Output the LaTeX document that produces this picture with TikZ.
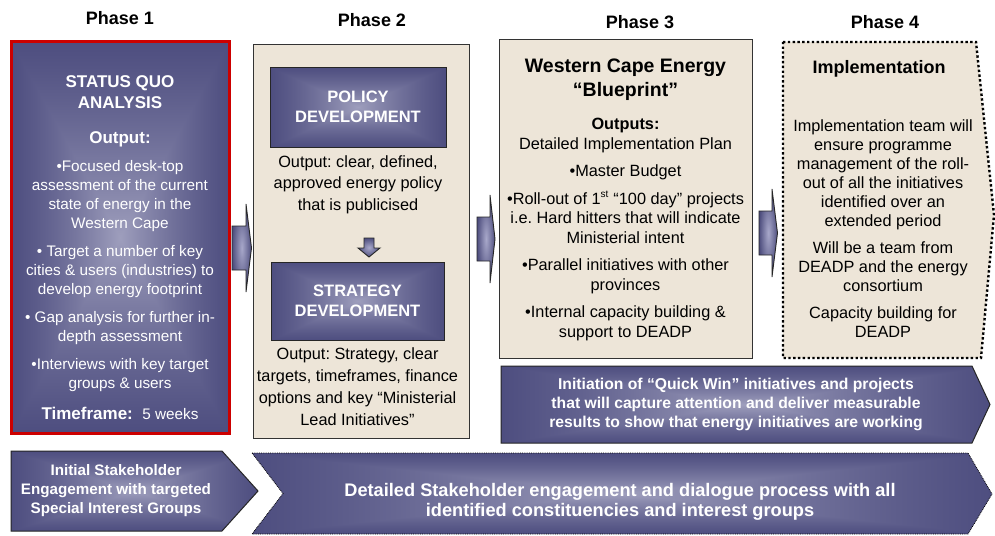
\documentclass[tikz,border=0pt]{standalone}
\usepackage{fontspec}
\setmainfont{Liberation Sans}
\usetikzlibrary{positioning}
\definecolor{arrowdk}{HTML}{4E4E7E}
\definecolor{arrowlt}{HTML}{A8A8CA}
\definecolor{sand}{HTML}{EDE5D8}
\definecolor{alertred}{HTML}{CC0000}
\newcommand\fs[2]{\fontsize{#1}{#2}\selectfont}
% light centre fading to navy at the edges of the box
\pgfdeclarefunctionalshading{boxfade}{\pgfpoint{-50bp}{-50bp}}{\pgfpoint{50bp}{50bp}}{}{
  abs exch abs 2 copy lt {exch} if pop 50 div 1 exch sub dup mul
  dup 0.42 mul 0.20 add exch
  dup 0.42 mul 0.20 add exch
  0.32 mul 0.42 add}
\frenchspacing

\begin{document}
\begin{tikzpicture}[x=1pt,y=-1pt,
    phase/.style={font=\bfseries\fs{18}{20}},
    dark/.style={shade, shading=boxfade},
    sandbox/.style={draw=black!80, line width=1pt, fill=sand},
    txt/.style={align=center, inner sep=0pt, font=\fs{16.3}{19.5}},
    wtxt/.style={txt, text=white, font=\bfseries\fs{15.5}{19}},
    title/.style={dark, draw=black!85, line width=1pt, wtxt, font=\bfseries\fs{16.5}{20}},
    dotline/.style={draw=black, line width=2.4pt, dash pattern=on 2.4pt off 2.4pt},
    barrow/.style={draw=black!85, line width=0.9pt, inner color=arrowlt, outer color=arrowdk}]
  \useasboundingbox (0,0) rectangle (995,535);

  % phase headings
  \node[phase] (ph1) at (120,18) {Phase 1};
  \node[phase] (ph2) at (372,20) {Phase 2};
  \node[phase] (ph3) at (640,22) {Phase 3};
  \node[phase] (ph4) at (885,22) {Phase 4};

  % phase 1
  \node[dark, draw=alertred, line width=3pt, minimum width=218, minimum height=391] (P1) at (120,237.5) {};
  \node[wtxt, font=\bfseries\fs{17}{21}] (p1title) at (120,92.5) {STATUS QUO\\ANALYSIS};
  \node[wtxt, font=\bfseries\fs{17}{21}] (p1out) at (120,139) {Output:};
  \node[txt, text=white, font=\fs{15.3}{19}] (p1list) at (120,276) {•Focused desk-top\\assessment of the current\\state of energy in the\\Western Cape\\[9pt]•\ Target a number of key\\cities \& users (industries) to\\develop energy footprint\\[9pt]•\ Gap analysis for further in-\\depth assessment\\[9pt]•Interviews with key target\\groups \& users};
  \node[wtxt, font=\bfseries\fs{17}{21}] (p1time) at (120,413) {Timeframe:~~{\mdseries\fs{15.3}{19}5 weeks}};

  % phase 2
  \node[sandbox, minimum width=216, minimum height=393] (P2) at (361,241.5) {};
  \node[title, minimum width=176, minimum height=80] (pol) at (358,107) {POLICY\\DEVELOPMENT};
  \node[txt, font=\fs{16.3}{21.5}] (polout) at (358,184.5) {Output: clear, defined,\\approved energy policy\\that is publicised};
  \draw[barrow] (364,238) -- (374,238) -- (374,248) -- (380,248) -- (369,257) -- (358,248) -- (364,248) -- cycle;
  \node[title, minimum width=173, minimum height=78] (strat) at (357.5,301) {STRATEGY\\DEVELOPMENT};
  \node[txt, font=\fs{16.3}{22}] (stratout) at (357.5,387) {Output: Strategy, clear\\targets, timeframes, finance\\options and key “Ministerial\\Lead Initiatives”};

  % phase 3
  \node[sandbox, minimum width=253, minimum height=318] (P3) at (625.5,199) {};
  \node[txt, font=\bfseries\fs{19.5}{24}] (p3title) at (625.5,80) {Western Cape Energy\\“Blueprint”};
  \node[txt] (p3list) at (625.5,229.5) {\textbf{Outputs:}\\Detailed Implementation Plan\\[8pt]•Master Budget\\[8pt]•Roll-out of 1\textsuperscript{\fs{10}{10}st} “100 day” projects\\i.e. Hard hitters that will indicate\\Ministerial intent\\[8pt]•Parallel initiatives with other\\provinces\\[8pt]•Internal capacity building \&\\support to DEADP};

  % phase 4
  \draw[dotline, fill=sand] (783,42) -- (976,42) -- (994,215) -- (981,358) -- (783,358) -- cycle;
  \node[txt, font=\bfseries\fs{18}{22}] (p4title) at (879,69) {Implementation};
  \node[txt, font=\fs{16.3}{19}] (p4list) at (883,228.5) {Implementation team will\\ensure programme\\management of the roll-\\out of all the initiatives\\identified over an\\extended period\\[8pt]Will be a team from\\DEADP and the energy\\consortium\\[8pt]Capacity building for\\DEADP};

  % arrows between phases
  \draw[barrow] (232,226) -- (246,226) -- (246,204) -- (251.5,248) -- (246,292) -- (246,270) -- (232,270) -- cycle;
  \draw[barrow] (477,217) -- (490,217) -- (490,195) -- (495,239) -- (490,283) -- (490,261) -- (477,261) -- cycle;
  \draw[barrow] (759,211) -- (772,211) -- (772,189) -- (777.5,233) -- (772,277) -- (772,255) -- (759,255) -- cycle;

  % quick wins
  \draw[dark, draw=black!85, line width=1pt] (501,366) -- (972,366) -- (990,404.5) -- (972,443) -- (501,443) -- cycle;
  \node[wtxt, font=\bfseries\fs{15.7}{19}] (quick) at (736,404) {Initiation of “Quick Win” initiatives and projects\\that will capture attention and deliver measurable\\results to show that energy initiatives are working};

  % stakeholder engagement
  \draw[dark, draw=black!85, line width=1pt] (11,451) -- (222,451) -- (258,491) -- (222,531) -- (11,531) -- cycle;
  \node[wtxt, font=\bfseries\fs{15.2}{19}] (initial) at (116,491) {Initial Stakeholder\\Engagement with targeted\\Special Interest Groups};
  \draw[dark, draw=black, line width=0.8pt, densely dotted] (252,453) -- (968,453) -- (992,494) -- (968,534) -- (252,534) -- (283,493.5) -- cycle;
  \node[wtxt, font=\bfseries\fs{18.2}{20}] (detailed) at (620,502) {Detailed Stakeholder engagement and dialogue process with all\\identified constituencies and interest groups};
\end{tikzpicture}
\end{document}
